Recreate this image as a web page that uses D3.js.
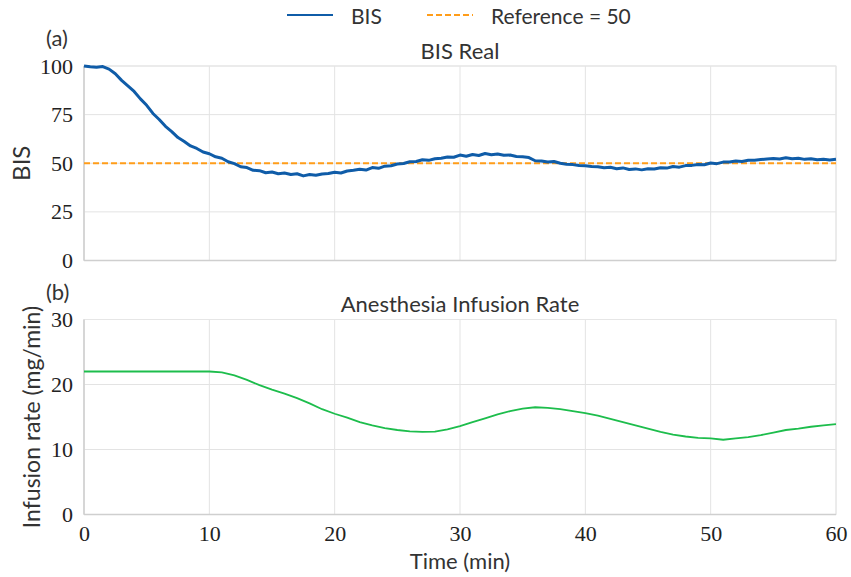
<!DOCTYPE html>
<html>
<head>
<meta charset="utf-8">
<script src="https://cdn.jsdelivr.net/npm/d3@7"></script>
<style>
  body { margin: 0; background: #fff; }
  .lbl { font-family: Lato, "Open Sans", sans-serif; fill: #333; }
</style>
</head>
<body>
<div class="js-board"></div>
<script>
// time axis (min), sampled every 0.5 min for BIS and every 1 min for infusion
var bisTime = d3.range(0, 60.5, 0.5);
var bisValues = [
  100.0, 99.6, 99.3, 99.7, 98.4, 96.0, 92.6, 89.8, 86.9, 83.1,
  79.8, 75.6, 72.5, 69.0, 66.3, 63.2, 61.2, 58.9, 57.6, 55.8,
  54.9, 53.3, 52.6, 50.8, 49.8, 48.2, 47.8, 46.4, 46.2, 45.1,
  45.5, 44.6, 45.0, 44.2, 44.6, 43.5, 44.2, 43.8, 44.5, 44.7,
  45.4, 45.0, 46.0, 46.4, 46.9, 46.5, 47.8, 47.4, 48.5, 48.7,
  49.6, 49.9, 50.8, 50.9, 51.8, 51.5, 52.3, 52.6, 53.2, 53.1,
  54.2, 53.6, 54.5, 54.0, 55.0, 54.4, 54.8, 54.1, 54.2, 53.5,
  53.3, 52.9, 51.3, 51.2, 50.6, 50.9, 50.0, 49.5, 49.3, 48.8,
  48.7, 48.3, 48.2, 47.7, 47.9, 47.2, 47.6, 46.8, 47.1, 46.6,
  47.2, 47.0, 47.7, 47.5, 48.3, 48.0, 48.8, 48.9, 49.4, 49.2,
  50.1, 49.8, 50.6, 50.7, 51.1, 50.9, 51.5, 51.6, 51.9, 52.2,
  52.4, 52.2, 52.8, 52.3, 52.6, 52.0, 52.3, 51.8, 52.1, 51.7,
  52.0
];
var reference = 50;

var infTime = d3.range(0, 61, 1);
var infValues = [
  22.0, 22.0, 22.0, 22.0, 22.0, 22.0, 22.0, 22.0, 22.0, 22.0,
  22.0, 21.85, 21.4, 20.7, 19.9, 19.2, 18.6, 17.9, 17.1, 16.2,
  15.5, 14.9, 14.2, 13.7, 13.3, 13.0, 12.8, 12.7, 12.75, 13.1,
  13.6, 14.2, 14.8, 15.4, 15.9, 16.3, 16.5, 16.4, 16.2, 15.9,
  15.6, 15.2, 14.7, 14.2, 13.7, 13.2, 12.7, 12.3, 12.0, 11.8,
  11.7, 11.5, 11.7, 11.9, 12.2, 12.6, 13.0, 13.2, 13.5, 13.7,
  13.9
];

var xTicks = [0, 10, 20, 30, 40, 50, 60];
var bisTicks = [0, 25, 50, 75, 100];
var infTicks = [0, 10, 20, 30];

var blue = '#0f5ca8', orange = '#ff9d1a', green = '#1dbd4c';
var serif = '"Liberation Serif", "Times New Roman", "DejaVu Serif", serif';

var svg = d3.select('.js-board').append('svg')
  .attr('width', 851).attr('height', 577);

var x = d3.scaleLinear().domain([0, 60]).range([84, 836]);
var yBis = d3.scaleLinear().domain([0, 100]).range([260.5, 66]);
var yInf = d3.scaleLinear().domain([0, 30]).range([514.5, 319.5]);

function styleTicks(sel) {
  sel.selectAll('text')
    .style('font-family', serif)
    .style('font-size', '22px')
    .style('fill', '#222');
}

function panel(y, yTicks, title, tag, showX) {
  var g = svg.append('g');
  var y0 = y.range()[0], y1 = y.range()[1];

  // grid
  g.selectAll('.vg').data(xTicks).enter().append('line')
    .attr('x1', function(d) { return x(d); }).attr('x2', function(d) { return x(d); })
    .attr('y1', y1).attr('y2', y0)
    .attr('stroke', '#e3e3e3').attr('stroke-width', 1);
  g.selectAll('.hg').data(yTicks).enter().append('line')
    .attr('x1', 84).attr('x2', 836)
    .attr('y1', function(d) { return y(d); }).attr('y2', function(d) { return y(d); })
    .attr('stroke', '#e3e3e3').attr('stroke-width', 1);

  // frame
  g.append('rect').attr('x', 84).attr('y', y1).attr('width', 752).attr('height', y0 - y1)
    .attr('fill', 'none').attr('stroke', '#e6e6e6');
  g.append('line').attr('x1', 84).attr('x2', 84).attr('y1', y1).attr('y2', y0)
    .attr('stroke', '#cfcfcf').attr('stroke-width', 1.5);
  g.append('line').attr('x1', 84).attr('x2', 836).attr('y1', y0).attr('y2', y0)
    .attr('stroke', '#cfcfcf').attr('stroke-width', 1.5);

  var ya = g.append('g').attr('transform', 'translate(84,0)')
    .call(d3.axisLeft(y).tickValues(yTicks).tickSize(0).tickPadding(11).tickFormat(d3.format('d')));
  ya.select('.domain').remove();
  styleTicks(ya);

  if (showX) {
    var xa = g.append('g').attr('transform', 'translate(0,' + y0 + ')')
      .call(d3.axisBottom(x).tickValues(xTicks).tickSize(0).tickPadding(11).tickFormat(d3.format('d')));
    xa.select('.domain').remove();
    styleTicks(xa);
  }

  g.append('text').attr('class', 'lbl').attr('x', 460).attr('y', y1 - 7.5)
    .attr('text-anchor', 'middle').style('font-size', '22px').text(title);
  g.append('text').attr('class', 'lbl').attr('x', 46).attr('y', y1 - 20)
    .style('font-size', '22px').text(tag);
  return g;
}

panel(yBis, bisTicks, 'BIS Real', '(a)', false);
panel(yInf, infTicks, 'Anesthesia Infusion Rate', '(b)', true);

// reference line
svg.append('line')
  .attr('x1', x(0)).attr('x2', x(60))
  .attr('y1', yBis(reference)).attr('y2', yBis(reference))
  .attr('stroke', orange).attr('stroke-width', 1.8).attr('stroke-dasharray', '6,3');

// BIS trace
svg.append('path')
  .datum(bisTime.map(function(t, i) { return [t, bisValues[i]]; }))
  .attr('fill', 'none').attr('stroke', blue).attr('stroke-width', 3)
  .attr('stroke-linejoin', 'round')
  .attr('d', d3.line().x(function(d) { return x(d[0]); }).y(function(d) { return yBis(d[1]); }));

// infusion trace
svg.append('path')
  .datum(infTime.map(function(t, i) { return [t, infValues[i]]; }))
  .attr('fill', 'none').attr('stroke', green).attr('stroke-width', 1.8)
  .attr('d', d3.line().x(function(d) { return x(d[0]); }).y(function(d) { return yInf(d[1]); }));

// axis labels
svg.append('text').attr('class', 'lbl')
  .attr('transform', 'translate(30,' + yBis(50) + ') rotate(-90)')
  .attr('text-anchor', 'middle').style('font-size', '24px').text('BIS');
svg.append('text').attr('class', 'lbl')
  .attr('transform', 'translate(40,417) rotate(-90)')
  .attr('text-anchor', 'middle').style('font-size', '23px').text('Infusion rate (mg/min)');
svg.append('text').attr('class', 'lbl')
  .attr('x', 460).attr('y', 569).attr('text-anchor', 'middle')
  .style('font-size', '22px').text('Time (min)');

// legend
var legend = svg.append('g');
legend.append('line').attr('x1', 287).attr('x2', 333).attr('y1', 15).attr('y2', 15)
  .attr('stroke', blue).attr('stroke-width', 1.8);
legend.append('text').attr('class', 'lbl').attr('x', 351).attr('y', 24)
  .style('font-size', '21px').text('BIS');
legend.append('line').attr('x1', 427).attr('x2', 473).attr('y1', 15).attr('y2', 15)
  .attr('stroke', orange).attr('stroke-width', 1.8).attr('stroke-dasharray', '6,3');
legend.append('text').attr('class', 'lbl').attr('x', 491).attr('y', 24)
  .style('font-size', '21px').text('Reference = 50');
</script>
</body>
</html>
